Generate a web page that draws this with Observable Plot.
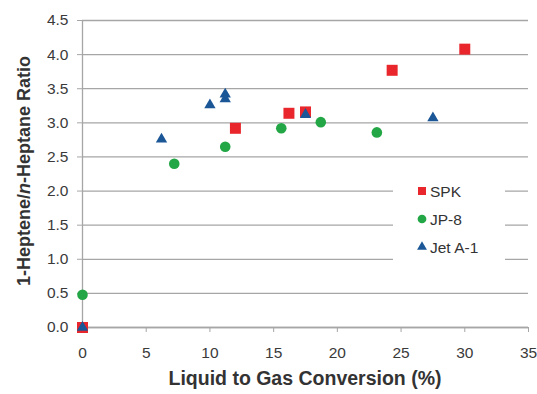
<!DOCTYPE html>
<html>
<head>
<meta charset="utf-8">
<script src="https://cdn.jsdelivr.net/npm/d3@7"></script>
<script src="https://cdn.jsdelivr.net/npm/@observablehq/plot@0.6"></script>
<style>
  html, body { margin: 0; padding: 0; background: #fff; }
  #chart svg { display: block; }
</style>
</head>
<body>
<div id="chart"></div>
<script>
// Data
const spkX = [0, 12.0, 16.2, 17.5, 24.3, 30.0];
const spkY = [0, 2.92, 3.14, 3.16, 3.77, 4.08];
const jp8X = [0, 7.2, 11.2, 15.6, 18.7, 23.1];
const jp8Y = [0.48, 2.40, 2.65, 2.92, 3.01, 2.86];
const jetX = [0, 6.2, 10.0, 11.2, 11.2, 17.5, 27.5];
const jetY = [0, 2.76, 3.26, 3.42, 3.35, 3.12, 3.07];
const seriesNames = ["SPK", "JP-8", "Jet A-1"];
const xTicks = [0, 5, 10, 15, 20, 25, 30, 35];
const yTicks = [0, 0.5, 1, 1.5, 2, 2.5, 3, 3.5, 4, 4.5];

const colors = {"SPK": "#e8262b", "JP-8": "#23a746", "Jet A-1": "#1b5697"};
const toRows = (xs, ys) => xs.map((x, i) => ({x, y: ys[i]}));
const spk = toRows(spkX, spkY);
const jp8 = toRows(jp8X, jp8Y);
const jet = toRows(jetX, jetY);

const W = 537, H = 394;
const font = "'Liberation Sans', Arial, sans-serif";

const plot = Plot.plot({
  width: W,
  height: H,
  marginTop: 20,
  marginBottom: 67,
  marginLeft: 82,
  marginRight: 9,
  style: {fontFamily: font, fontSize: "15.5px", color: "#3a3a3a", background: "#fff"},
  x: {domain: [0, 35], ticks: xTicks, label: null},
  y: {domain: [0, 4.5], ticks: yTicks, label: null},
  marks: [
    Plot.gridY(yTicks, {stroke: "#a6a6a6", strokeOpacity: 1, strokeWidth: 1.3}),
    Plot.ruleX([0], {stroke: "#a6a6a6", strokeWidth: 1.3}),
    Plot.ruleY([0], {stroke: "#a6a6a6", strokeWidth: 1.3}),
    Plot.axisX(xTicks, {tickSize: 5, tickPadding: 14, stroke: "#a6a6a6", tickFormat: d => d, fill: "#3a3a3a"}),
    Plot.axisY(yTicks, {tickSize: 5, tickPadding: 9, stroke: "#a6a6a6", tickFormat: d3.format(".1f"), fill: "#3a3a3a"}),
    Plot.dot(spk, {x: "x", y: "y", symbol: "square", r: 6.2, fill: colors["SPK"], stroke: null}),
    Plot.dot(jp8, {x: "x", y: "y", symbol: "circle", r: 5.3, fill: colors["JP-8"], stroke: null}),
    Plot.dot(jet, {x: "x", y: "y", symbol: "triangle", r: 4.2, fill: colors["Jet A-1"], stroke: null})
  ]
});

const svg = d3.select(plot);

// legend (white box over the gridlines)
const lg = svg.append("g").attr("text-anchor", "start");
lg.append("rect")
  .attr("x", 393).attr("y", 174).attr("width", 112).attr("height", 90)
  .attr("fill", "#ffffff").style("fill", "#ffffff").attr("stroke", "none");
const legSymbols = {"SPK": d3.symbolSquare, "JP-8": d3.symbolCircle, "Jet A-1": d3.symbolTriangle};
const legSizes = {"SPK": 64, "JP-8": 60, "Jet A-1": 42};
seriesNames.forEach((name, i) => {
  const cy = 191 + i * 28;
  lg.append("path")
    .attr("transform", `translate(422,${cy})`)
    .attr("d", d3.symbol(legSymbols[name], legSizes[name])())
    .attr("fill", colors[name]);
  lg.append("text")
    .attr("x", 430)
    .attr("y", cy)
    .attr("text-anchor", "start")
    .attr("dominant-baseline", "central")
    .style("font-family", font)
    .style("font-size", "15.5px")
    .attr("fill", "#333")
    .text(name);
});

// y-axis title with italic n
const yl = svg.append("text")
  .attr("transform", "translate(24,171) rotate(-90)")
  .attr("text-anchor", "middle")
  .attr("dominant-baseline", "central")
  .style("font-family", font)
  .style("font-weight", "bold")
  .style("font-size", "18px")
  .attr("fill", "#333");
yl.append("tspan").text("1-Heptene/");
yl.append("tspan").style("font-style", "italic").text("n");
yl.append("tspan").text("-Heptane Ratio");

// x-axis title
svg.append("text")
  .attr("x", 305)
  .attr("y", 378)
  .attr("text-anchor", "middle")
  .attr("dominant-baseline", "central")
  .style("font-family", font)
  .style("font-weight", "bold")
  .style("font-size", "19.5px")
  .attr("fill", "#333")
  .text("Liquid to Gas Conversion (%)");

document.getElementById("chart").appendChild(plot);
</script>
</body>
</html>
